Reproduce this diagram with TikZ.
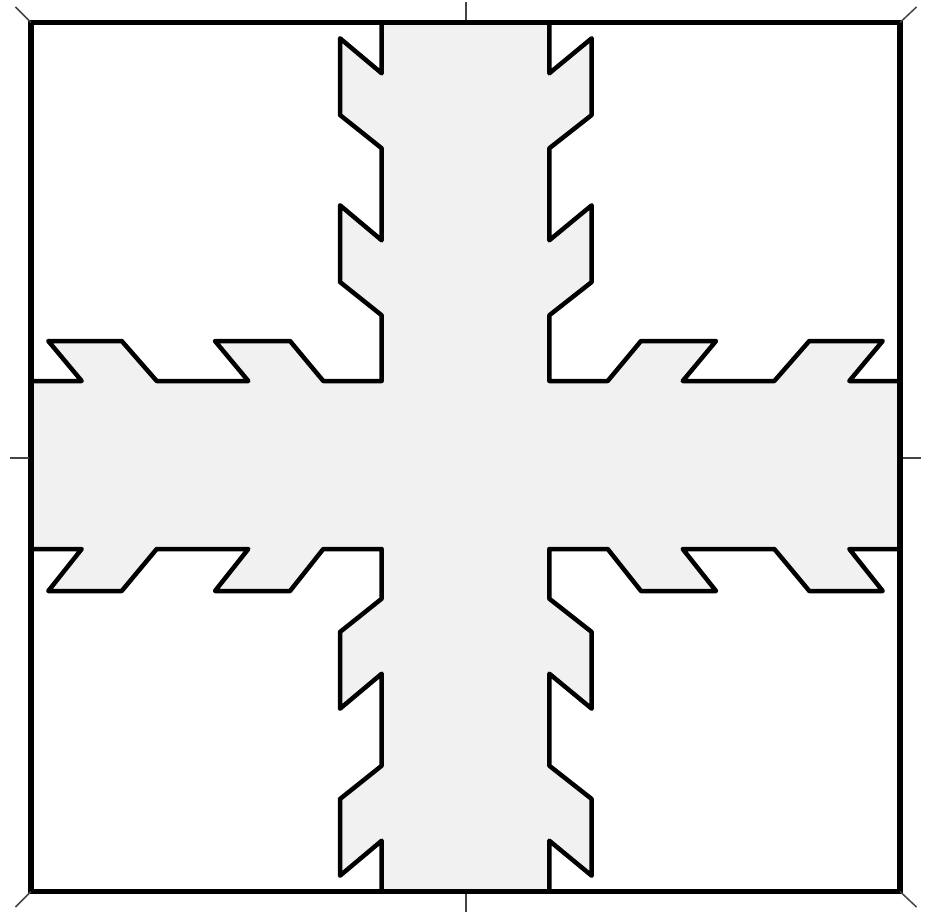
\documentclass[tikz,border=0pt]{standalone}
\definecolor{crossfill}{HTML}{F1F1F1}
\definecolor{tickgray}{HTML}{444444}
\tikzset{
  frame/.style={line width=5.5pt, line join=miter},
  crossshape/.style={fill=crossfill, draw=black, line width=4.5pt, line join=round},
  tickmark/.style={draw=tickgray, line width=1.5pt}
}
\begin{document}
\begin{tikzpicture}[x=1pt,y=-1pt]
\useasboundingbox (0,0) rectangle (932,912);
% the cross
\draw[crossshape]
 (381.7,22.5) -- (381.7,73.3) -- (340,38.3) -- (340,115) -- (381.7,148.3) -- (381.7,240.3) -- (340,205.3) -- (340,282) -- (381.7,315.3) -- (381.7,381)
 -- (323.3,381) -- (290,341) -- (215,341) -- (248.3,381) -- (156.7,381) -- (121.7,341) -- (48.3,341) -- (81.7,381) -- (31,381)
 -- (31,549) -- (81.7,549) -- (48.3,591) -- (121.7,591) -- (156.7,549) -- (248.3,549) -- (215,591) -- (290,591) -- (323.3,549) -- (381.7,549)
 -- (381.7,598.7) -- (340,632) -- (340,708.7) -- (381.7,673.7) -- (381.7,765.7) -- (340,799) -- (340,875.7) -- (381.7,840.7) -- (381.7,891.5)
 -- (549.3,891.5) -- (549.3,840.7) -- (591.7,875.7) -- (591.7,799) -- (549.3,765.7) -- (549.3,673.7) -- (591.7,708.7) -- (591.7,632) -- (549.3,598.7) -- (549.3,549)
 -- (607.7,549) -- (641,591) -- (716,591) -- (682.7,549) -- (774.3,549) -- (809.3,591) -- (882.7,591) -- (849.3,549) -- (900,549)
 -- (900,381) -- (849.3,381) -- (882.7,341) -- (809.3,341) -- (774.3,381) -- (682.7,381) -- (716,341) -- (641,341) -- (607.7,381) -- (549.3,381)
 -- (549.3,315.3) -- (591.7,282) -- (591.7,205.3) -- (549.3,240.3) -- (549.3,148.3) -- (591.7,115) -- (591.7,38.3) -- (549.3,73.3) -- (549.3,22.5) -- cycle;
% frame
\coordinate (tl) at (31,22.5);
\coordinate (tr) at (900,22.5);
\coordinate (br) at (900,891.5);
\coordinate (bl) at (31,891.5);
\draw[frame] (tl) -- (tr) -- (br) -- (bl) -- cycle;
% corner ticks
\coordinate (tlo) at (15.5,7);
\coordinate (tro) at (916.5,7);
\coordinate (bro) at (916.5,907);
\coordinate (blo) at (15.5,907);
\draw[tickmark] (tl) -- (tlo);
\draw[tickmark] (tr) -- (tro);
\draw[tickmark] (br) -- (bro);
\draw[tickmark] (bl) -- (blo);
% middle ticks
\coordinate (tm) at (466,20);
\coordinate (tmo) at (466,2);
\coordinate (bm) at (466,894);
\coordinate (bmo) at (466,912);
\coordinate (lm) at (28.5,458);
\coordinate (lmo) at (10,458);
\coordinate (rm) at (902.5,458);
\coordinate (rmo) at (921,458);
\draw[tickmark] (tm) -- (tmo);
\draw[tickmark] (bm) -- (bmo);
\draw[tickmark] (lm) -- (lmo);
\draw[tickmark] (rm) -- (rmo);
\end{tikzpicture}
\end{document}
